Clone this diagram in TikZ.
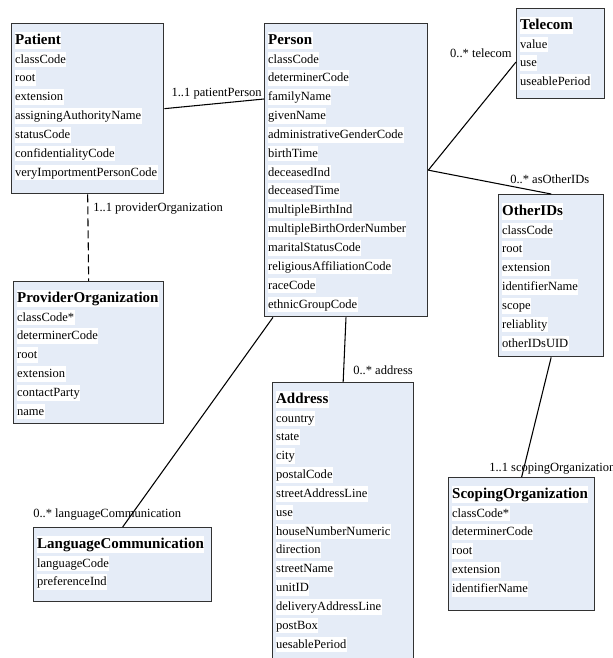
\documentclass[tikz,border=0pt]{standalone}
\usepackage{fontspec}
\setmainfont{Liberation Serif}
\usetikzlibrary{calc}
\definecolor{boxfill}{RGB}{229,236,247}
\definecolor{boxline}{RGB}{50,50,50}
\tikzset{
 classbox/.style={draw=boxline, fill=boxfill, line width=1pt, rectangle, inner sep=0pt, anchor=north west},
 classtitle/.style={anchor=base west, fill=white, inner xsep=0.3pt, inner ysep=0.8pt, text height=8.5pt, text depth=2.5pt, font=\fontsize{11.25}{13}\selectfont\bfseries},
 attr/.style={anchor=base west, fill=white, inner xsep=0.3pt, inner ysep=0.6pt, text height=8pt, text depth=2.5pt, font=\fontsize{9.4}{11}\selectfont},
 assoc/.style={draw=black, line width=0.8pt},
 rolelabel/.style={font=\fontsize{9.4}{11}\selectfont, inner sep=0pt},
}
\newcommand\umlclass[7]{%
 \node[classbox, minimum width=#4*0.75pt, minimum height=#5*0.75pt] (#1) at (#2,#3) {};
 \node[classtitle] (#1-title) at ($(#1.north west)+(3.5,21.3)$) {#6};
 \foreach \a [count=\i] in {#7} {
   \pgfmathsetmacro\yy{40+18.85*(\i-1)}
   \node[attr] (#1-a\i) at ($(#1.north west)+(3.5,\yy)$) {\a};
 }
}
\begin{document}
\begin{tikzpicture}[x=0.75pt,y=-0.75pt]
\useasboundingbox (0,0) rectangle (613,658);
\fill[white] (0,0) rectangle (613,658);

\umlclass{patient}{11}{23}{152}{170}{Patient}{classCode,root,extension,assigningAuthorityName,statusCode,confidentialityCode,veryImportmentPersonCode}
\umlclass{person}{264}{23}{163}{293}{Person}{classCode,determinerCode,familyName,givenName,administrativeGenderCode,birthTime,deceasedInd,deceasedTime,multipleBirthInd,multipleBirthOrderNumber,maritalStatusCode,religiousAffiliationCode,raceCode,ethnicGroupCode}
\umlclass{telecom}{516}{8}{88}{90}{Telecom}{value,use,useablePeriod}
\umlclass{otherids}{498}{194}{105}{162}{OtherIDs}{classCode,root,extension,identifierName,scope,reliablity,otherIDsUID}
\umlclass{provider}{13}{281}{150}{142}{ProviderOrganization}{classCode*,determinerCode,root,extension,contactParty,name}
\umlclass{lang}{33}{527}{178}{74}{LanguageCommunication}{languageCode,preferenceInd}
\umlclass{address}{272}{382}{141}{290}{Address}{country,state,city,postalCode,streetAddressLine,use,houseNumberNumeric,direction,streetName,unitID,deliveryAddressLine,postBox,uesablePeriod}
\umlclass{scoping}{448}{477}{146}{133}{ScopingOrganization}{classCode*,determinerCode,root,extension,identifierName}

\draw[assoc] (patient.east) -- ($(person.north west)+(0,76)$);
\draw[assoc, dash pattern=on 6pt off 3pt] (patient.south) -- (provider.north);
\draw[assoc] (person.east) -- ($(telecom.north west)+(0,54)$);
\draw[assoc] (person.east) -- (otherids.north);
\draw[assoc] (otherids.south) -- (scoping.north);
\draw[assoc] ($(person.south west)+(82,0)$) -- (address.north);
\draw[assoc] ($(person.south west)+(9,0)$) -- (lang.north);

\node[rolelabel, anchor=base east] (lbl-pp) at (262,96) {1..1 patientPerson};
\node[rolelabel, anchor=base west] (lbl-po) at (93,211) {1..1 providerOrganization};
\node[rolelabel, anchor=base east] (lbl-tc) at (512,57) {0..* telecom};
\node[rolelabel, anchor=base west] (lbl-oi) at (510,183) {0..* asOtherIDs};
\node[rolelabel, anchor=base west] (lbl-ad) at (353,374) {0..* address};
\node[rolelabel, anchor=base west] (lbl-lc) at (33,517) {0..* languageCommunication};
\node[rolelabel, anchor=base west] (lbl-so) at (489,471) {1..1 scopingOrganization};
\end{tikzpicture}
\end{document}
